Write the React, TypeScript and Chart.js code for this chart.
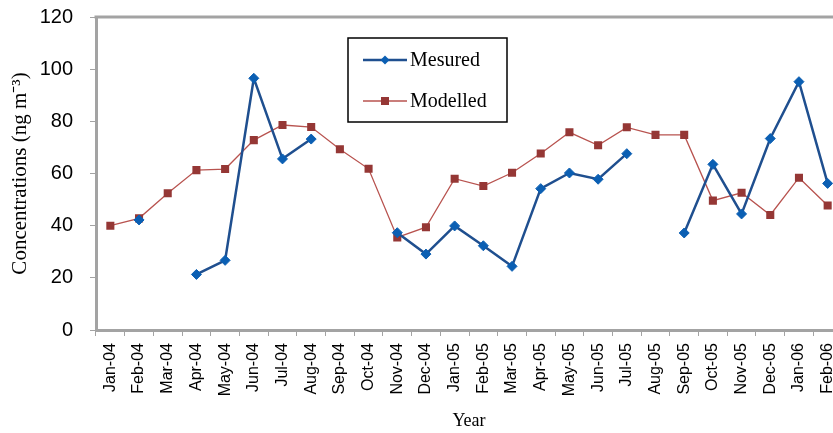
import React, { useEffect, useRef } from "react";
import { Chart, registerables } from "chart.js";

Chart.register(...registerables);

const categories = [
  "Jan-04", "Feb-04", "Mar-04", "Apr-04", "May-04", "Jun-04", "Jul-04", "Aug-04",
  "Sep-04", "Oct-04", "Nov-04", "Dec-04", "Jan-05", "Feb-05", "Mar-05", "Apr-05",
  "May-05", "Jun-05", "Jul-05", "Aug-05", "Sep-05", "Oct-05", "Nov-05", "Dec-05",
  "Jan-06", "Feb-06",
];

const measured = [
  null, 42.2, null, 21.3, 26.7, 96.5, 65.6, 73.2,
  null, null, 37.3, 29.1, 39.9, 32.3, 24.4, 54.2,
  60.2, 57.8, 67.6, null, 37.2, 63.5, 44.5, 73.4,
  95.2, 56.2,
];

const modelled = [
  40, 42.8, 52.4, 61.3, 61.7, 72.8, 78.6, 77.8,
  69.3, 61.8, 35.5, 39.4, 58, 55.2, 60.3, 67.7,
  75.8, 70.8, 77.7, 74.8, 74.8, 49.6, 52.6, 44.1,
  58.4, 47.7,
];

const seriesNames = ["Mesured", "Modelled"];
const yTitle = "Concentrations (ng m\u207B\u00B3)";
const xTitle = "Year";

const AXIS_GREY = "#a3a3a3";

const frameAndLegend = {
  id: "frameAndLegend",
  afterDatasetsDraw(chart: any) {
    const { ctx, chartArea } = chart;
    ctx.save();
    // top border
    ctx.strokeStyle = AXIS_GREY;
    ctx.lineWidth = 3;
    ctx.beginPath();
    ctx.moveTo(chartArea.left - 1.5, chartArea.top);
    ctx.lineTo(chartArea.right + 2, chartArea.top);
    ctx.stroke();

    // legend box
    const bx = 348, by = 38, bw = 159, bh = 84;
    ctx.fillStyle = "#ffffff";
    ctx.fillRect(bx, by, bw, bh);
    ctx.strokeStyle = "#000000";
    ctx.lineWidth = 1.5;
    ctx.strokeRect(bx, by, bw, bh);

    const rows = [60, 101];
    chart.data.datasets.forEach((ds: any, i: number) => {
      const y = rows[i];
      ctx.strokeStyle = ds.borderColor;
      ctx.lineWidth = ds.borderWidth;
      ctx.beginPath();
      ctx.moveTo(363, y);
      ctx.lineTo(407, y);
      ctx.stroke();
      ctx.fillStyle = ds.pointBackgroundColor;
      if (ds.pointStyle === "rectRot") {
        const r = 4.5;
        ctx.beginPath();
        ctx.moveTo(385, y - r);
        ctx.lineTo(385 + r, y);
        ctx.lineTo(385, y + r);
        ctx.lineTo(385 - r, y);
        ctx.closePath();
        ctx.fill();
      } else {
        ctx.fillRect(385 - 4, y - 4, 8, 8);
      }
      ctx.fillStyle = "#000000";
      ctx.font = "20px 'Liberation Serif', 'Times New Roman', serif";
      ctx.textBaseline = "middle";
      ctx.textAlign = "left";
      ctx.fillText(ds.label, 410, y + 1);
    });
    ctx.restore();
  },
};

export default function App() {
  const ref = useRef<HTMLCanvasElement | null>(null);

  useEffect(() => {
    document.body.style.overflow = "hidden";
    document.documentElement.style.overflow = "hidden";
    const canvas = ref.current;
    if (!canvas) return;
    const chart = new Chart(canvas, {
      type: "line",
      data: {
        labels: categories,
        datasets: [
          {
            label: seriesNames[0],
            data: measured,
            borderColor: "#1f4f8f",
            borderWidth: 2.5,
            pointStyle: "rectRot",
            pointRadius: 5,
            pointBackgroundColor: "#0b5fb3",
            pointBorderColor: "#0b5fb3",
            pointBorderWidth: 1,
            spanGaps: false,
            tension: 0,
            order: 1,
          },
          {
            label: seriesNames[1],
            data: modelled,
            borderColor: "#b8534f",
            borderWidth: 1.3,
            pointStyle: "rect",
            pointRadius: 5.7,
            pointBackgroundColor: "#953735",
            pointBorderColor: "#953735",
            pointBorderWidth: 0,
            spanGaps: false,
            tension: 0,
            order: 2,
          },
        ],
      },
      options: {
        responsive: false,
        animation: false,
        events: [],
        layout: { padding: { top: 17, right: 8, left: 0, bottom: 0 } },
        plugins: {
          legend: { display: false },
          tooltip: { enabled: false },
          title: { display: false },
        },
        scales: {
          x: {
            type: "category",
            offset: true,
            grid: {
              offset: true,
              drawOnChartArea: false,
              drawTicks: true,
              tickLength: 6,
              color: AXIS_GREY,
              lineWidth: 1,
            },
            border: { display: true, color: AXIS_GREY, width: 3 },
            ticks: {
              autoSkip: false,
              maxRotation: 90,
              minRotation: 90,
              padding: 7,
              color: "#000000",
              font: { family: "'Liberation Sans', Arial, sans-serif", size: 16 },
            },
            title: {
              display: true,
              text: xTitle,
              color: "#000000",
              font: { family: "'Liberation Serif', 'Times New Roman', serif", size: 18 },
              padding: { top: 0, bottom: 1 },
            },
            afterFit(scale: any) {
              scale.height = 103;
              scale.paddingLeft = 0;
              scale.paddingRight = 0;
            },
          },
          y: {
            min: 0,
            max: 120,
            grid: {
              drawOnChartArea: false,
              drawTicks: true,
              tickLength: 6,
              color: AXIS_GREY,
              lineWidth: 1,
            },
            border: { display: true, color: AXIS_GREY, width: 3 },
            ticks: {
              stepSize: 10,
              padding: 17,
              color: "#000000",
              font: { family: "'Liberation Sans', Arial, sans-serif", size: 20 },
              callback: (v: any) => (Number(v) % 20 === 0 ? String(v) : ""),
            },
            title: {
              display: true,
              text: yTitle,
              color: "#000000",
              font: { family: "'Liberation Serif', 'Times New Roman', serif", size: 21 },
              padding: { top: 8, bottom: 0 },
            },
            afterFit(scale: any) {
              scale.width = 96;
              scale.paddingTop = 0;
              scale.paddingBottom = 0;
            },
          },
        },
      },
      plugins: [frameAndLegend],
    });
    return () => chart.destroy();
  }, []);

  return (
    <div style={{ position: "fixed", left: 0, top: 0, width: 850, height: 433, background: "#fff" }}>
      <canvas ref={ref} width={850} height={433} style={{ width: 850, height: 433, display: "block" }} />
    </div>
  );
}
